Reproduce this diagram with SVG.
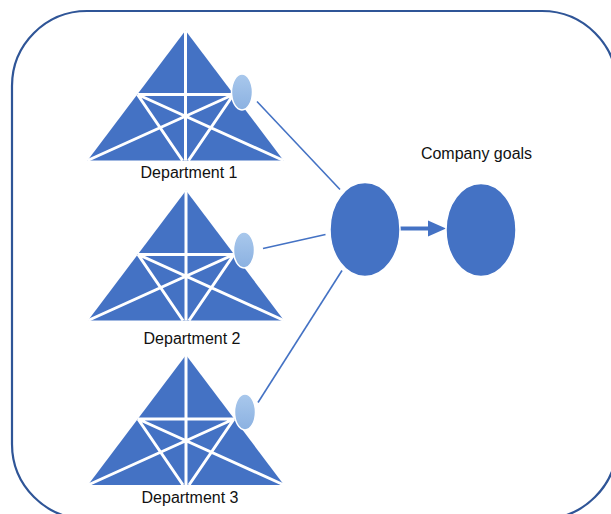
<svg xmlns="http://www.w3.org/2000/svg" xmlns:xlink="http://www.w3.org/1999/xlink" width="611" height="514" viewBox="0 0 611 514">
  <style>
    .frame { fill: #ffffff; stroke: #2F5597; stroke-width: 2.2; }
    .tri { fill: #4472C4; }
    .tl { stroke: #ffffff; stroke-width: 3; fill: none; stroke-linecap: butt; }
    .dot { fill: url(#lb); stroke: #ffffff; stroke-width: 1.5; }
    .big { fill: #4472C4; stroke: #ffffff; stroke-width: 1.5; }
    .conn { stroke: #4472C4; stroke-width: 1.6; fill: none; }
    .lbl { font-family: "Liberation Sans", Arial, sans-serif; font-size: 16px; fill: #111111; text-anchor: middle; }
  </style>
  <defs>
    <linearGradient id="lb" x1="0" y1="0" x2="0" y2="1">
      <stop offset="0" stop-color="#A9C8EC"/>
      <stop offset="1" stop-color="#8BB1E1"/>
    </linearGradient>
    <g id="tri">
      <polygon class="tri" points="0,0 -98,130 98,130"/>
      <path class="tl" d="M0,0 V130 M-48,64 H48 M-48,64 L98,130 M48,64 L-98,130 M-48,64 L-3,130 M48,64 L3,130"/>
    </g>
  </defs>

  <rect class="frame" x="12" y="11" width="605" height="508" rx="75" ry="75"/>

  <g id="connectors">
    <line class="conn" x1="257" y1="101.5" x2="340" y2="189.5"/>
    <line class="conn" x1="263" y1="248.5" x2="325.5" y2="234.5"/>
    <line class="conn" x1="258" y1="402.5" x2="342" y2="270.5"/>
    <line x1="400" y1="228.5" x2="430" y2="228.5" stroke="#4472C4" stroke-width="4"/>
    <polygon points="428,220.5 446,228.5 428,236.5" fill="#4472C4"/>
  </g>

  <g id="dept1">
    <use xlink:href="#tri" href="#tri" transform="translate(185.5,30.5)"/>
    <ellipse class="dot" cx="242" cy="92" rx="10.5" ry="18"/>
    <text class="lbl" x="189" y="178">Department 1</text>
  </g>

  <g id="dept2">
    <use xlink:href="#tri" href="#tri" transform="translate(186,190.5)"/>
    <ellipse class="dot" cx="244" cy="250" rx="10.5" ry="18"/>
    <text class="lbl" x="192" y="344">Department 2</text>
  </g>

  <g id="dept3">
    <use xlink:href="#tri" href="#tri" transform="translate(186,355)"/>
    <ellipse class="dot" cx="245" cy="412" rx="10.5" ry="18"/>
    <text class="lbl" x="190" y="503">Department 3</text>
  </g>

  <g id="hub">
    <ellipse class="big" cx="365" cy="229.5" rx="35" ry="47"/>
  </g>

  <g id="goals">
    <ellipse class="big" cx="481" cy="230" rx="35" ry="46.5"/>
    <text class="lbl" x="476.5" y="158.5">Company goals</text>
  </g>
</svg>
